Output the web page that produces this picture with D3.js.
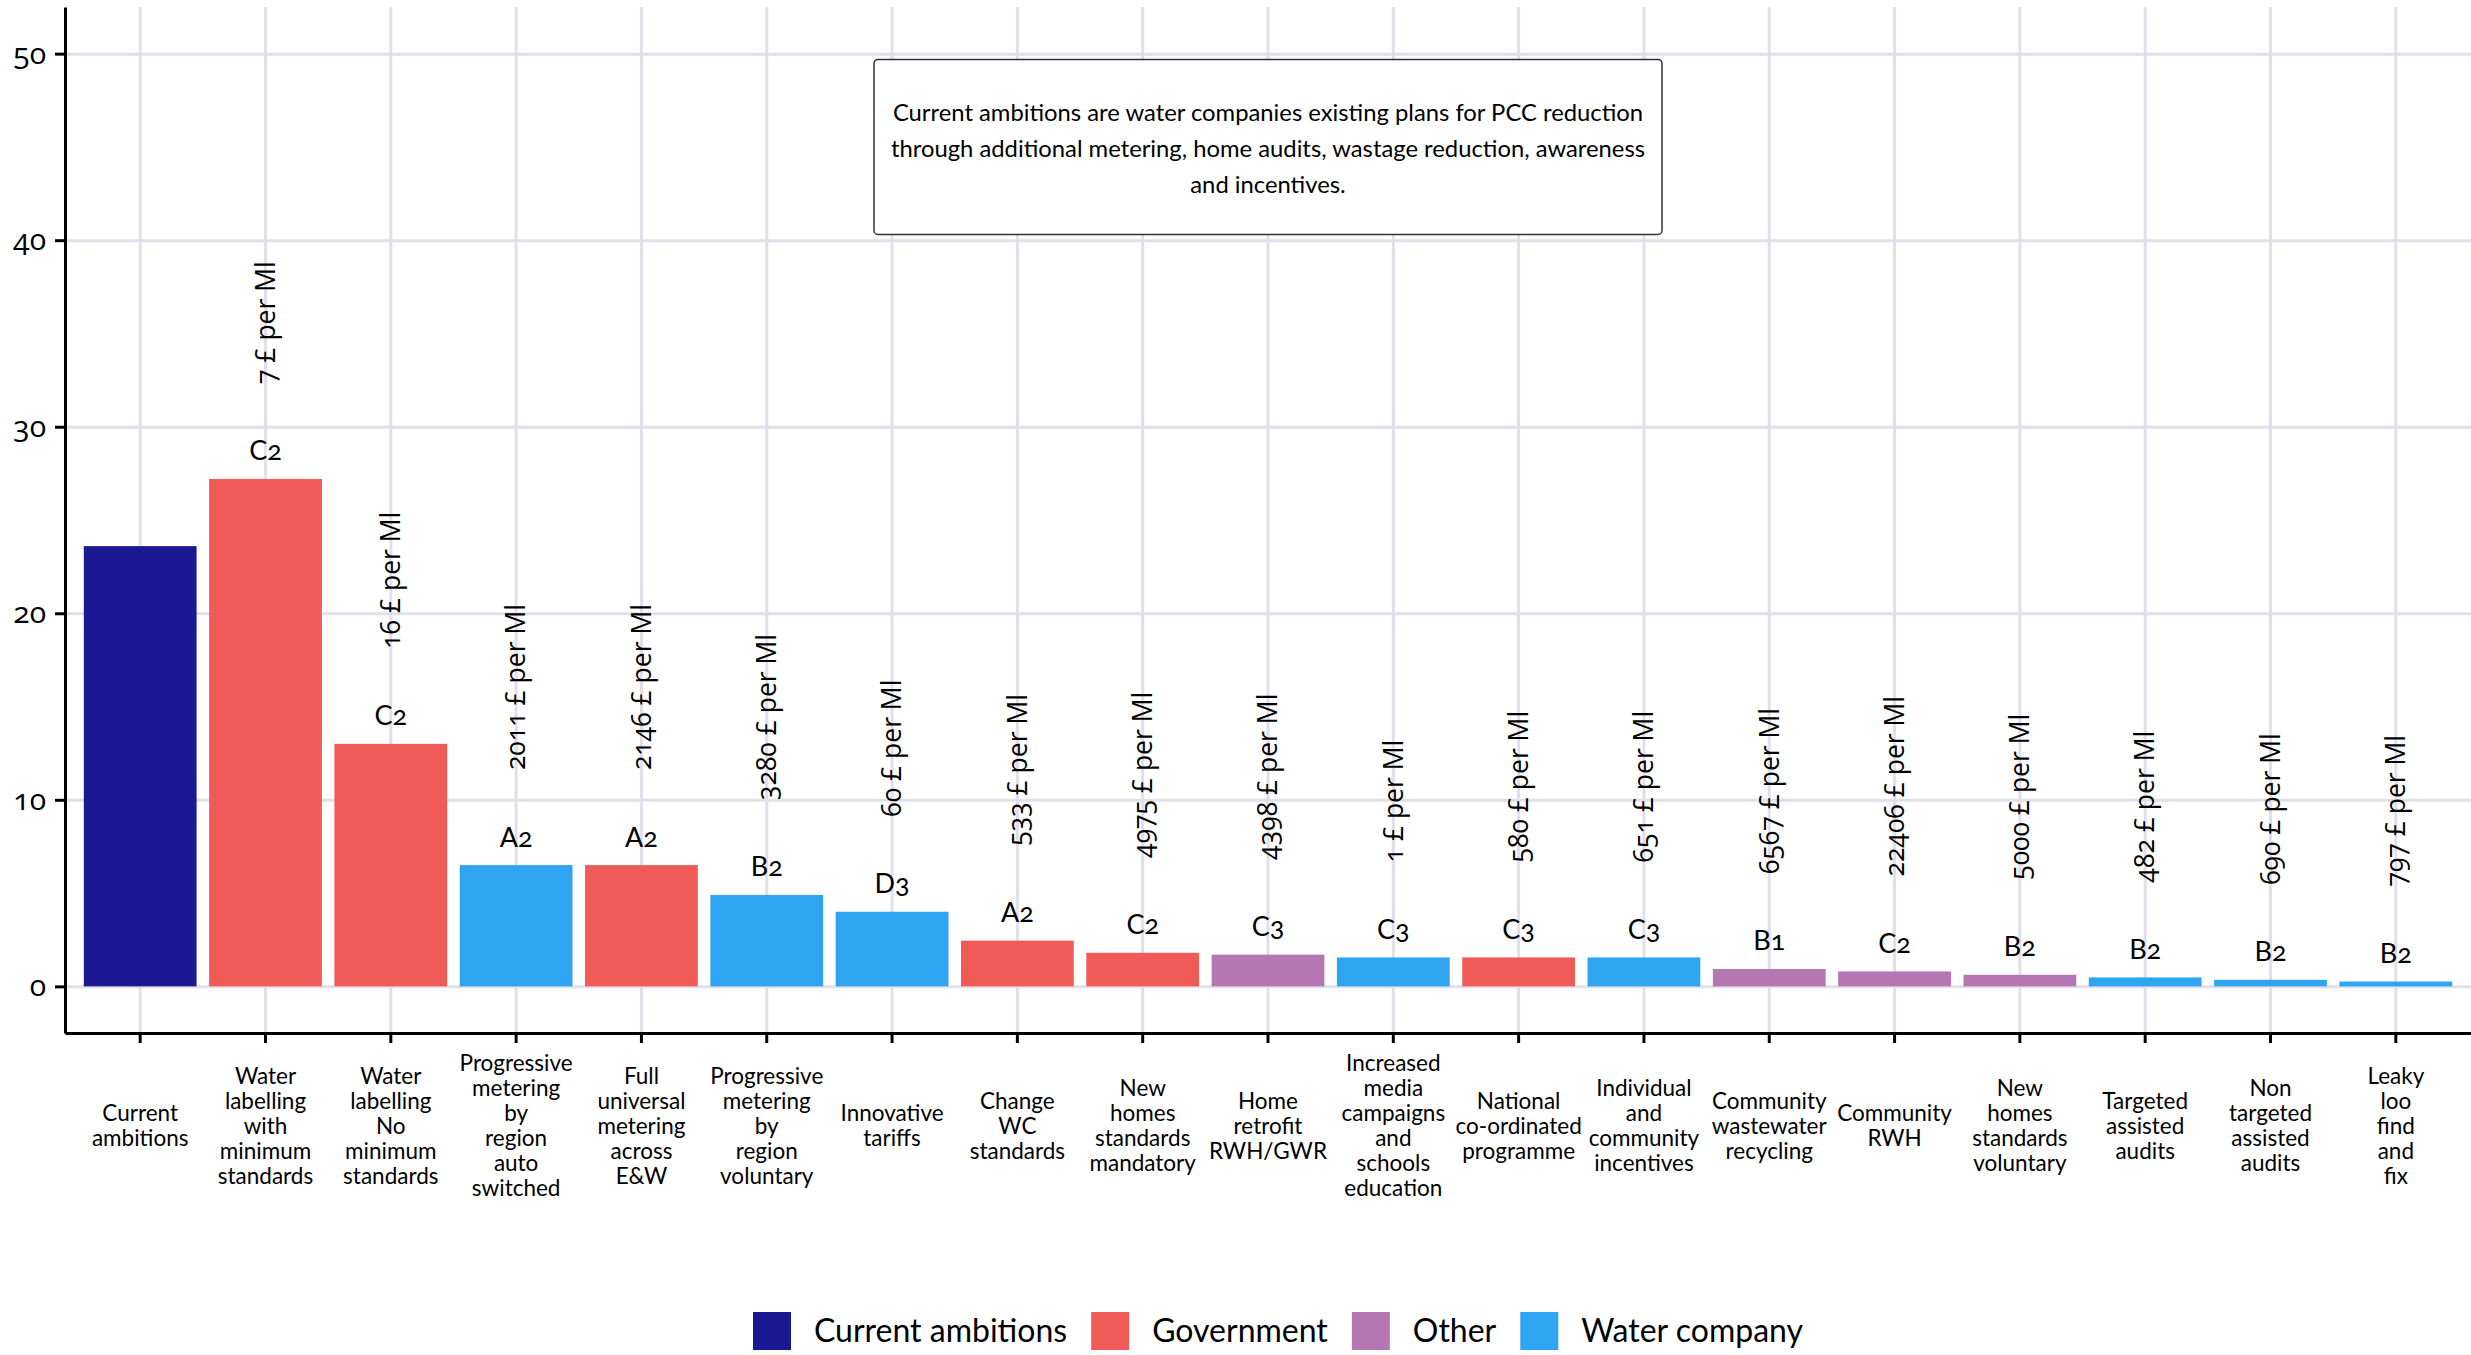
<!DOCTYPE html>
<html>
<head>
<meta charset="utf-8">
<script src="https://cdn.jsdelivr.net/npm/d3@7"></script>
<style>
  body { margin: 0; background: #fff; }
  text { font-family: Lato, sans-serif; fill: #000; }
  .num { font-family: "Open Sans", sans-serif; font-variant-numeric: oldstyle-nums; }
</style>
</head>
<body>
<script>

// data

const measures = [
  "Current ambitions",
  "Water labelling with minimum standards",
  "Water labelling No minimum standards",
  "Progressive metering by region auto switched",
  "Full universal metering across E&W",
  "Progressive metering by region voluntary",
  "Innovative tariffs",
  "Change WC standards",
  "New homes standards mandatory",
  "Home retrofit RWH/GWR",
  "Increased media campaigns and schools education",
  "National co-ordinated programme",
  "Individual and community incentives",
  "Community wastewater recycling",
  "Community RWH",
  "New homes standards voluntary",
  "Targeted assisted audits",
  "Non targeted assisted audits",
  "Leaky loo find and fix"
];

const groups = [
  "Current ambitions", "Government", "Government", "Water company", "Government",
  "Water company", "Water company", "Government", "Government", "Other",
  "Water company", "Government", "Water company", "Other", "Other",
  "Other", "Water company", "Water company", "Water company"
];

const reductions = [23.6, 27.2, 13.0, 6.5, 6.5, 4.9, 4.0, 2.45, 1.8, 1.7,
                    1.55, 1.55, 1.55, 0.93, 0.8, 0.62, 0.48, 0.35, 0.26];

const costs = [null, 7, 16, 2011, 2146, 3280, 60, 533, 4975, 4398,
               1, 580, 651, 6567, 22406, 5000, 482, 690, 797];

const grades = ["", "C2", "C2", "A2", "A2", "B2", "D3", "A2", "C2", "C3",
                "C3", "C3", "C3", "B1", "C2", "B2", "B2", "B2", "B2"];

const groupNames = ["Current ambitions", "Government", "Other", "Water company"];
const groupColors = ["#1a1892", "#f05a57", "#b477b1", "#2fa4f0"];

const yTicks = [0, 10, 20, 30, 40, 50];

const note = [
  "Current ambitions are water companies existing plans for PCC reduction",
  "through additional metering, home audits, wastage reduction, awareness",
  "and incentives."
];
const noteAt = { measure: "Home retrofit RWH/GWR", value: 45 };

// layout

const width = 2471, height = 1355;
const margin = { top: 7, right: 0, bottom: 322, left: 65 };
const gridColor = "#e0dfea";

const svg = d3.select("body").append("svg")
  .attr("width", width)
  .attr("height", height);

const x = d3.scaleBand()
  .domain(measures)
  .range([margin.left, width - margin.right])
  .paddingInner(0.1)
  .paddingOuter(0.15);

const y = d3.scaleLinear()
  .domain([-2.5, 52.5])
  .range([height - margin.bottom, margin.top]);

const color = d3.scaleOrdinal().domain(groupNames).range(groupColors);

// **** grid *****************
svg.append("g")
  .attr("transform", `translate(${margin.left},0)`)
  .call(d3.axisLeft(y).tickValues(yTicks).tickSize(-(width - margin.left)).tickFormat(""))
  .call(g => g.select(".domain").remove())
  .call(g => g.selectAll("line").attr("stroke", gridColor).attr("stroke-width", 3));

svg.append("g")
  .attr("transform", `translate(0,${height - margin.bottom})`)
  .call(d3.axisBottom(x).tickSize(-(height - margin.bottom - margin.top)).tickFormat(""))
  .call(g => g.select(".domain").remove())
  .call(g => g.selectAll("line").attr("stroke", gridColor).attr("stroke-width", 3));

// **** bars *****************
const data = measures.map((m, i) => ({
  measure: m, group: groups[i], value: reductions[i], cost: costs[i], grade: grades[i]
}));

svg.append("g")
  .selectAll("rect")
  .data(data)
  .join("rect")
  .attr("x", d => x(d.measure))
  .attr("width", x.bandwidth())
  .attr("y", d => y(d.value))
  .attr("height", d => y(0) - y(d.value))
  .attr("fill", d => color(d.group));

// grade labels
svg.append("g")
  .selectAll("text")
  .data(data.filter(d => d.grade))
  .join("text")
  .attr("x", d => x(d.measure) + x.bandwidth() / 2)
  .attr("y", d => y(d.value) - 28)
  .attr("dy", "0.35em")
  .attr("text-anchor", "middle")
  .attr("font-size", 27)
  .style("font-variant-numeric", "oldstyle-nums")
  .text(d => d.grade);

// cost labels, rotated
svg.append("g")
  .selectAll("text")
  .data(data.filter(d => d.cost !== null))
  .join("text")
  .attr("class", "num")
  .attr("transform", d => `translate(${x(d.measure) + x.bandwidth() / 2},${y(d.value) - 95}) rotate(-90)`)
  .attr("dy", "0.35em")
  .attr("text-anchor", "start")
  .attr("font-size", 26.5)
  .text(d => d.cost + " £ per Ml");

// **** axes *****************
svg.append("g")
  .attr("transform", `translate(${margin.left},0)`)
  .call(d3.axisLeft(y).tickValues(yTicks).tickSize(10).tickSizeOuter(0).tickPadding(9))
  .call(g => g.select(".domain").attr("stroke", "#000").attr("stroke-width", 3))
  .call(g => g.selectAll("line").attr("stroke", "#000").attr("stroke-width", 3))
  .call(g => g.selectAll("text")
    .attr("class", "num")
    .attr("font-size", 30)
    .attr("font-family", null)
    .attr("fill", "#000"));

const xAxis = svg.append("g")
  .attr("transform", `translate(0,${height - margin.bottom})`)
  .call(d3.axisBottom(x).tickSize(10).tickSizeOuter(0).tickFormat(""))
  .call(g => g.select(".domain").attr("stroke", "#000").attr("stroke-width", 3))
  .call(g => g.selectAll("line").attr("stroke", "#000").attr("stroke-width", 3));

const lineH = 25;
xAxis.selectAll(".tick").each(function (m) {
  const words = m.split(" ");
  const t = d3.select(this).append("text")
    .attr("text-anchor", "middle")
    .attr("font-size", 22.5)
    .attr("font-family", "Lato, sans-serif")
    .attr("fill", "#000");
  words.forEach((w, i) => {
    t.append("tspan")
      .attr("x", 0)
      .attr("y", 93 + (i - (words.length - 1) / 2) * lineH)
      .attr("dy", "0.35em")
      .text(w);
  });
});

// **** note box *****************
const nx = x(noteAt.measure) + x.bandwidth() / 2;
const ny = y(noteAt.value);
const noteG = svg.append("g");
const noteBox = noteG.append("rect")
  .attr("fill", "#fff")
  .attr("stroke", "#333")
  .attr("stroke-width", 1.5)
  .attr("rx", 4);
const noteText = noteG.append("text")
  .attr("text-anchor", "middle")
  .attr("font-size", 23.8);
note.forEach((l, i) => {
  noteText.append("tspan")
    .attr("x", nx)
    .attr("y", ny + 1.5 + (i - 1) * 36)
    .attr("dy", "0.35em")
    .text(l);
});
const nw = noteText.node().getBBox().width + 34;
noteBox.attr("x", nx - nw / 2).attr("y", ny - 87.5).attr("width", nw).attr("height", 175);

// **** legend *****************
const legend = svg.append("g");
let lx = 0;
groupNames.forEach((name, i) => {
  const item = legend.append("g").attr("transform", `translate(${lx},0)`);
  item.append("rect")
    .attr("x", 0).attr("y", -19)
    .attr("width", 38).attr("height", 38)
    .attr("fill", groupColors[i]);
  const t = item.append("text")
    .attr("x", 61)
    .attr("dy", "0.35em")
    .attr("font-size", 32)
    .text(name);
  lx += 61 + t.node().getComputedTextLength() + 24;
});
const legendW = lx - 24;
legend.attr("transform", `translate(${1278 - legendW / 2},1331)`);

</script>
</body>
</html>
